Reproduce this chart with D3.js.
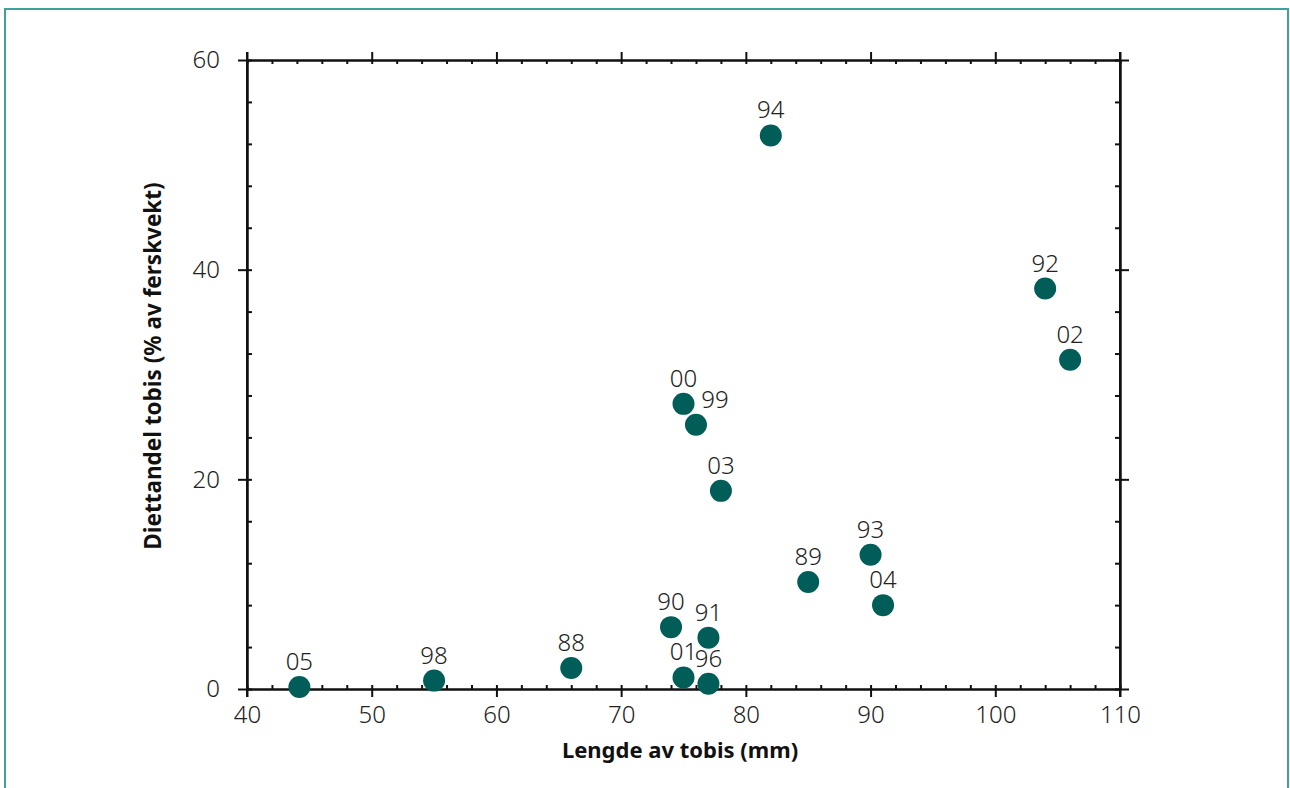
<!DOCTYPE html>
<html><head><meta charset="utf-8">
<script src="https://cdn.jsdelivr.net/npm/d3@7"></script>
<style>
body{margin:0;background:#fff;}
svg text{font-family:"Noto Sans","Open Sans",sans-serif;}
</style></head>
<body>
<svg id="c" width="1290" height="788"></svg>
<script>
const years   = ["05","98","88","90","91","01","96","00","99","03","94","89","93","04","92","02"];
const lengths = [44.2, 55, 66, 74, 77, 75, 77, 75, 76, 78, 82, 85, 90, 91, 104, 106];
const diet    = [0.2, 0.8, 2.0, 5.9, 4.9, 1.1, 0.5, 27.2, 25.2, 18.9, 52.8, 10.2, 12.8, 8.0, 38.2, 31.4];
const xTicks = [40,50,60,70,80,90,100,110];
const yTicks = [0,20,40,60];
const xMinor = d3.range(40,111,2);
const yMinor = d3.range(0,61,4);

const svg = d3.select("#c");
svg.append("rect").attr("x",5).attr("y",9).attr("width",1283).attr("height",800)
  .attr("fill","none").attr("stroke","#3aa39a").attr("stroke-width",2);

const L=247, R=1120, T=60, B=689;
const x = d3.scaleLinear().domain([40,110]).range([L,R]);
const y = d3.scaleLinear().domain([0,60]).range([B,T]);

function style(g){
  g.selectAll("path.domain").attr("stroke","#111").attr("stroke-width",2);
  g.selectAll("line").attr("stroke","#111").attr("stroke-width",2);
  g.selectAll("text").attr("fill","#222").style("font-size","24px").style("font-weight","300");
}
// bottom
svg.append("g").attr("transform",`translate(0,${B})`)
  .call(d3.axisBottom(x).tickValues(xMinor).tickSize(-4).tickFormat("").tickSizeOuter(0)).call(style);
svg.append("g").attr("transform",`translate(0,${B})`)
  .call(d3.axisBottom(x).tickValues(xTicks).tickSize(8).tickPadding(9).tickSizeOuter(0)).call(style);
// top
svg.append("g").attr("transform",`translate(0,${T})`)
  .call(d3.axisTop(x).tickValues(xMinor).tickSize(-4).tickFormat("").tickSizeOuter(0)).call(style);
svg.append("g").attr("transform",`translate(0,${T})`)
  .call(d3.axisTop(x).tickValues(xTicks).tickSize(8).tickFormat("").tickSizeOuter(0)).call(style);
// left
svg.append("g").attr("transform",`translate(${L},0)`)
  .call(d3.axisLeft(y).tickValues(yMinor).tickSize(-5).tickFormat("").tickSizeOuter(0)).call(style);
svg.append("g").attr("transform",`translate(${L},0)`)
  .call(d3.axisLeft(y).tickValues(yTicks).tickSize(9).tickPadding(18).tickSizeOuter(0)).call(style);
// right
svg.append("g").attr("transform",`translate(${R},0)`)
  .call(d3.axisRight(y).tickValues(yMinor).tickSize(-5).tickFormat("").tickSizeOuter(0)).call(style);
svg.append("g").attr("transform",`translate(${R},0)`)
  .call(d3.axisRight(y).tickValues(yTicks).tickSize(9).tickFormat("").tickSizeOuter(0)).call(style);

svg.append("line").attr("x1",L).attr("x2",L).attr("y1",T-8).attr("y2",B+8).attr("stroke","#111").attr("stroke-width",2);
svg.append("line").attr("x1",R).attr("x2",R).attr("y1",T-8).attr("y2",B+8).attr("stroke","#111").attr("stroke-width",2);

const data = years.map((yr,i)=>({yr, l:lengths[i], d:diet[i]}));
const labelDx = {"99":19};
const labelDy = {"99":-17};

svg.append("g").selectAll("circle").data(data).join("circle")
  .attr("cx",d=>x(d.l)).attr("cy",d=>y(d.d)).attr("r",11).attr("fill","#005d58");

svg.append("g").selectAll("text").data(data).join("text")
  .attr("x",d=>x(d.l)+(labelDx[d.yr]||0))
  .attr("y",d=>y(d.d)+(labelDy[d.yr]||-17))
  .attr("text-anchor","middle").attr("fill","#222")
  .style("font-size","24px").style("font-weight","300")
  .text(d=>d.yr);

svg.append("text").attr("x",680).attr("y",758).attr("text-anchor","middle")
  .style("font-size","22px").style("font-weight","700").attr("fill","#111")
  .text("Lengde av tobis (mm)");
svg.append("text").attr("transform","translate(161,366) rotate(-90)").attr("text-anchor","middle")
  .style("font-size","22.5px").style("font-weight","700").attr("fill","#111")
  .text("Diettandel tobis (% av ferskvekt)");
</script>
</body></html>
